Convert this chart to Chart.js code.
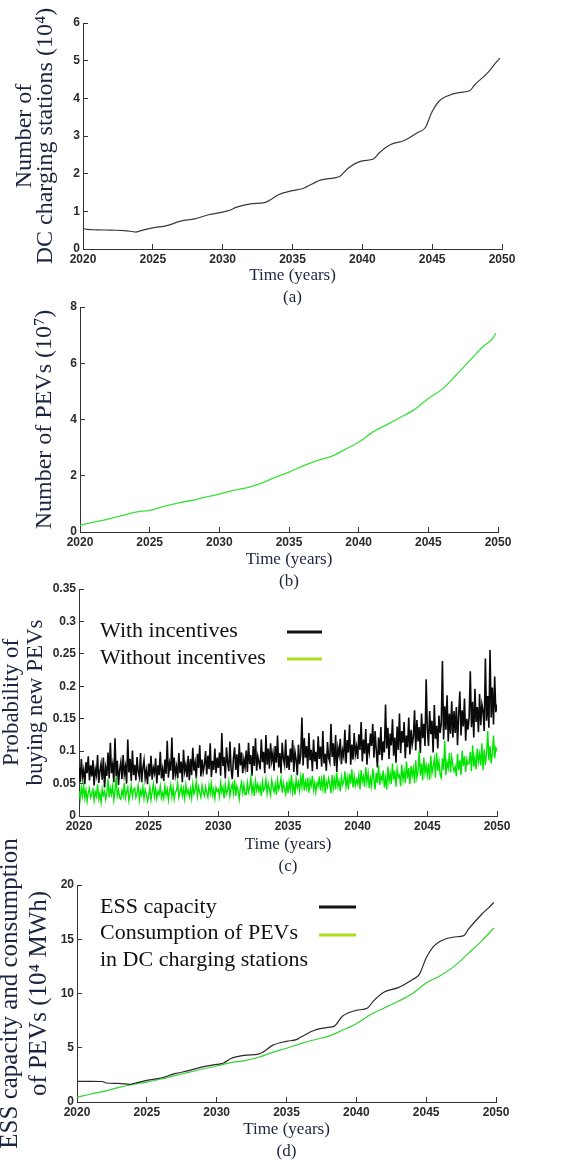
<!DOCTYPE html>
<html>
<head>
<meta charset="utf-8">
<script src="https://cdn.jsdelivr.net/npm/chart.js@4.4.1/dist/chart.umd.min.js"></script>
<style>
  body { margin: 0; background: #fff; overflow: hidden; }
  .panel { position: absolute; left: 0; width: 584px; }
</style>
</head>
<body>
<div class="panel" style="top:0;height:309px"><canvas id="chartA"></canvas></div>
<div class="panel" style="top:290px;height:303px"><canvas id="chartB"></canvas></div>
<div class="panel" style="top:570px;height:308px"><canvas id="chartC"></canvas></div>
<div class="panel" style="top:830px;height:333px"><canvas id="chartD"></canvas></div>
<script>
// (a) DC charging stations, 10^4
const stationYears = [2020, 2020.3, 2021, 2022, 2023, 2023.8, 2024, 2025, 2026, 2027, 2028, 2029, 2030, 2030.5,
    2031, 2032, 2033, 2033.3, 2034, 2035, 2035.7, 2036, 2037, 2038, 2038.4, 2039, 2040, 2040.8, 2041.2,
    2042, 2043, 2044, 2044.5, 2045, 2045.5, 2046, 2047, 2047.7, 2048, 2049, 2049.5, 2049.85];
const stationValues = [0.55, 0.52, 0.51, 0.50, 0.49, 0.45, 0.47, 0.56, 0.62, 0.74, 0.80, 0.91, 0.98, 1.03,
    1.11, 1.20, 1.23, 1.28, 1.44, 1.55, 1.60, 1.65, 1.83, 1.89, 1.93, 2.15, 2.34, 2.39, 2.55,
    2.77, 2.88, 3.10, 3.22, 3.65, 3.93, 4.05, 4.16, 4.20, 4.34, 4.69, 4.92, 5.07];

// (b) PEVs, 10^7
const pevYears = [2020, 2021, 2022, 2023, 2024, 2025, 2026, 2027, 2028, 2029, 2030, 2031, 2032, 2033, 2034,
    2035, 2036, 2037, 2038, 2039, 2040, 2041, 2042, 2043, 2044, 2045, 2046, 2047, 2048, 2049, 2049.5, 2049.85];
const pevValues = [0.24, 0.35, 0.46, 0.58, 0.71, 0.77, 0.91, 1.03, 1.12, 1.24, 1.35, 1.48, 1.58, 1.73, 1.94,
    2.13, 2.35, 2.54, 2.68, 2.93, 3.19, 3.55, 3.81, 4.08, 4.35, 4.75, 5.08, 5.58, 6.11, 6.62, 6.82, 7.06];

// (c) probability of buying new PEVs, monthly samples
const probStart = 2020;
const probPerYear = 12;
const withIncentives = [
    0.075, 0.052, 0.088, 0.060, 0.071, 0.049, 0.083, 0.066, 0.092, 0.055, 0.078, 0.061,
    0.086, 0.047, 0.072, 0.063, 0.094, 0.051, 0.069, 0.081, 0.056, 0.090, 0.044, 0.074,
    0.062, 0.098, 0.058, 0.113, 0.066, 0.079, 0.052, 0.120, 0.061, 0.085, 0.048, 0.071,
    0.083, 0.057, 0.094, 0.064, 0.076, 0.050, 0.118, 0.067, 0.088, 0.054, 0.101, 0.063,
    0.079, 0.055, 0.091, 0.068, 0.060, 0.097, 0.052, 0.074, 0.086, 0.058, 0.070, 0.049,
    0.081, 0.061, 0.093, 0.056, 0.074, 0.066, 0.089, 0.050, 0.078, 0.063, 0.099, 0.058,
    0.072, 0.054, 0.087, 0.065, 0.116, 0.059, 0.081, 0.070, 0.121, 0.056, 0.090, 0.064,
    0.076, 0.058, 0.097, 0.066, 0.084, 0.052, 0.102, 0.069, 0.079, 0.060, 0.093, 0.055,
    0.088, 0.063, 0.105, 0.070, 0.082, 0.058, 0.096, 0.074, 0.109, 0.061, 0.087, 0.068,
    0.079, 0.100, 0.064, 0.093, 0.072, 0.112, 0.060, 0.085, 0.071, 0.104, 0.066, 0.090,
    0.074, 0.098, 0.062, 0.128, 0.077, 0.091, 0.058, 0.106, 0.083, 0.069, 0.115, 0.072,
    0.057, 0.089, 0.106, 0.071, 0.095, 0.060, 0.112, 0.078, 0.098, 0.066, 0.087, 0.075,
    0.101, 0.068, 0.113, 0.080, 0.094, 0.062, 0.108, 0.077, 0.120, 0.070, 0.092, 0.083,
    0.072, 0.118, 0.083, 0.099, 0.066, 0.125, 0.079, 0.104, 0.073, 0.112, 0.085, 0.097,
    0.070, 0.108, 0.082, 0.124, 0.075, 0.097, 0.066, 0.113, 0.088, 0.079, 0.118, 0.074,
    0.093, 0.071, 0.104, 0.083, 0.117, 0.068, 0.099, 0.087, 0.063, 0.110, 0.080, 0.095,
    0.152, 0.078, 0.120, 0.090, 0.108, 0.073, 0.128, 0.086, 0.102, 0.069, 0.118, 0.084,
    0.099, 0.072, 0.123, 0.088, 0.107, 0.076, 0.131, 0.081, 0.096, 0.070, 0.114, 0.090,
    0.083, 0.142, 0.091, 0.112, 0.077, 0.125, 0.068, 0.105, 0.094, 0.119, 0.080, 0.101,
    0.092, 0.133, 0.081, 0.117, 0.098, 0.141, 0.079, 0.110, 0.087, 0.128, 0.095, 0.107,
    0.088, 0.126, 0.102, 0.145, 0.084, 0.118, 0.096, 0.134, 0.079, 0.112, 0.099, 0.127,
    0.108, 0.142, 0.090, 0.131, 0.101, 0.075, 0.121, 0.094, 0.137, 0.086, 0.115, 0.098,
    0.172, 0.104, 0.136, 0.088, 0.127, 0.109, 0.149, 0.093, 0.121, 0.082, 0.138, 0.102,
    0.158, 0.097, 0.131, 0.113, 0.145, 0.089, 0.124, 0.106, 0.152, 0.095, 0.133, 0.110,
    0.122, 0.163, 0.101, 0.148, 0.115, 0.137, 0.097, 0.158, 0.120, 0.142, 0.108, 0.211,
    0.134, 0.108, 0.162, 0.126, 0.147, 0.098, 0.171, 0.119, 0.139, 0.104, 0.155, 0.128,
    0.142, 0.239, 0.118, 0.169, 0.133, 0.186, 0.115, 0.158, 0.127, 0.177, 0.121, 0.162,
    0.128, 0.168, 0.109, 0.157, 0.192, 0.124, 0.163, 0.138, 0.181, 0.116, 0.150, 0.133,
    0.152, 0.223, 0.137, 0.176, 0.121, 0.196, 0.145, 0.168, 0.129, 0.188, 0.140, 0.172,
    0.162, 0.131, 0.243, 0.147, 0.185, 0.136, 0.256, 0.152, 0.198, 0.141, 0.215, 0.160,
    0.172
];
const withoutIncentives = [
    0.038, 0.026, 0.044, 0.031, 0.047, 0.028, 0.040, 0.023, 0.036, 0.043, 0.029, 0.034,
    0.041, 0.024, 0.037, 0.030, 0.049, 0.027, 0.035, 0.021, 0.042, 0.032, 0.038, 0.026,
    0.036, 0.057, 0.029, 0.043, 0.033, 0.046, 0.025, 0.039, 0.060, 0.031, 0.040, 0.028,
    0.026, 0.039, 0.031, 0.051, 0.028, 0.037, 0.044, 0.024, 0.035, 0.047, 0.030, 0.040,
    0.043, 0.029, 0.036, 0.047, 0.025, 0.039, 0.032, 0.045, 0.027, 0.041, 0.034, 0.023,
    0.031, 0.044, 0.025, 0.037, 0.049, 0.030, 0.042, 0.027, 0.038, 0.033, 0.046, 0.028,
    0.036, 0.027, 0.046, 0.032, 0.041, 0.025, 0.039, 0.048, 0.030, 0.043, 0.026, 0.037,
    0.039, 0.051, 0.029, 0.037, 0.045, 0.031, 0.042, 0.027, 0.048, 0.034, 0.040, 0.030,
    0.042, 0.028, 0.049, 0.034, 0.040, 0.053, 0.031, 0.045, 0.036, 0.029, 0.047, 0.037,
    0.031, 0.045, 0.036, 0.029, 0.047, 0.035, 0.050, 0.032, 0.041, 0.027, 0.044, 0.038,
    0.041, 0.030, 0.051, 0.037, 0.044, 0.027, 0.048, 0.034, 0.040, 0.053, 0.031, 0.043,
    0.049, 0.035, 0.056, 0.031, 0.046, 0.039, 0.026, 0.044, 0.052, 0.036, 0.048, 0.033,
    0.033, 0.051, 0.037, 0.045, 0.059, 0.036, 0.047, 0.031, 0.054, 0.040, 0.049, 0.038,
    0.047, 0.031, 0.053, 0.039, 0.043, 0.056, 0.035, 0.050, 0.041, 0.032, 0.055, 0.044,
    0.037, 0.049, 0.033, 0.055, 0.041, 0.047, 0.058, 0.036, 0.051, 0.042, 0.034, 0.053,
    0.035, 0.053, 0.041, 0.063, 0.037, 0.049, 0.033, 0.057, 0.044, 0.052, 0.039, 0.060,
    0.045, 0.066, 0.039, 0.053, 0.043, 0.059, 0.036, 0.055, 0.047, 0.062, 0.040, 0.051,
    0.037, 0.051, 0.046, 0.061, 0.039, 0.056, 0.042, 0.064, 0.035, 0.053, 0.045, 0.058,
    0.049, 0.035, 0.063, 0.043, 0.057, 0.041, 0.067, 0.046, 0.054, 0.038, 0.060, 0.048,
    0.053, 0.069, 0.045, 0.059, 0.041, 0.065, 0.050, 0.072, 0.044, 0.061, 0.047, 0.056,
    0.049, 0.063, 0.041, 0.071, 0.053, 0.061, 0.045, 0.075, 0.052, 0.066, 0.043, 0.058,
    0.046, 0.073, 0.056, 0.041, 0.067, 0.051, 0.078, 0.048, 0.062, 0.055, 0.070, 0.044,
    0.059, 0.041, 0.076, 0.053, 0.066, 0.049, 0.081, 0.056, 0.070, 0.045, 0.073, 0.060,
    0.063, 0.046, 0.079, 0.056, 0.069, 0.051, 0.084, 0.058, 0.074, 0.049, 0.077, 0.062,
    0.073, 0.051, 0.086, 0.059, 0.069, 0.101, 0.062, 0.081, 0.055, 0.090, 0.066, 0.078,
    0.063, 0.081, 0.056, 0.093, 0.066, 0.076, 0.088, 0.059, 0.098, 0.070, 0.084, 0.064,
    0.059, 0.089, 0.071, 0.116, 0.063, 0.083, 0.074, 0.097, 0.067, 0.091, 0.078, 0.069,
    0.076, 0.061, 0.096, 0.071, 0.086, 0.063, 0.101, 0.077, 0.092, 0.068, 0.088, 0.080,
    0.081, 0.099, 0.069, 0.109, 0.076, 0.091, 0.072, 0.104, 0.084, 0.096, 0.078, 0.112,
    0.071, 0.103, 0.079, 0.096, 0.131, 0.086, 0.108, 0.081, 0.097, 0.124, 0.089, 0.105,
    0.100
];

// (d) ESS capacity and consumption, 10^4 MWh
const essYears = [2020, 2021, 2021.8, 2022.1, 2023, 2023.8, 2024, 2025, 2026, 2027, 2028, 2029, 2030, 2030.5,
    2031, 2032, 2033, 2033.3, 2034, 2035, 2035.7, 2036, 2037, 2038, 2038.4, 2039, 2040, 2040.8, 2041.2,
    2042, 2043, 2044, 2044.5, 2045, 2045.5, 2046, 2047, 2047.7, 2048, 2049, 2049.5, 2049.85];
const essValues = [1.90, 1.90, 1.89, 1.75, 1.71, 1.62, 1.69, 2.00, 2.21, 2.61, 2.89, 3.23, 3.47, 3.59,
    3.99, 4.30, 4.42, 4.58, 5.22, 5.59, 5.75, 5.96, 6.61, 6.88, 6.97, 7.90, 8.45, 8.66, 9.28,
    10.14, 10.54, 11.27, 11.74, 13.27, 14.29, 14.81, 15.21, 15.33, 15.88, 17.33, 17.94, 18.40];
const useYears = [2020, 2021, 2022, 2023, 2024, 2025, 2026, 2027, 2028, 2029, 2030, 2031, 2032, 2033, 2034,
    2035, 2036, 2037, 2038, 2039, 2040, 2041, 2042, 2043, 2044, 2045, 2046, 2047, 2048, 2049, 2049.85];
const useValues = [0.43, 0.74, 1.01, 1.35, 1.63, 1.84, 2.12, 2.43, 2.73, 3.04, 3.32, 3.63, 3.81, 4.12, 4.58,
    4.95, 5.38, 5.74, 6.05, 6.61, 7.22, 8.05, 8.66, 9.28, 9.98, 10.97, 11.64, 12.50, 13.67, 14.87, 16.04];

const xTicks = { min: 2020, max: 2050, step: 5 };

const serif = 'Liberation Serif';
const titleColor = '#1c2540';
const tickFont = { family: 'Liberation Sans', size: 12, weight: 'bold' };
const tickColor = '#2a2a2a';

function pairs(xs, ys) {
    return ys.map((y, i) => ({ x: xs[i], y: y }));
}

const probYears = withIncentives.map((_, i) => probStart + i / probPerYear);

// legend drawn text-first, sample line on the right
const sideLegend = {
    id: 'sideLegend',
    afterDraw(chart, args, opts) {
        if (!opts.items) return;
        const ctx = chart.ctx;
        ctx.save();
        ctx.font = '22px "' + serif + '"';
        ctx.textBaseline = 'middle';
        ctx.fillStyle = '#111';
        opts.items.forEach(item => {
            const lines = chart.data.datasets[item.dataset].label.split('\n');
            lines.forEach((t, k) => ctx.fillText(t, opts.textX, item.y + k * opts.lineGap));
            ctx.strokeStyle = item.color;
            ctx.lineWidth = 3;
            ctx.beginPath();
            ctx.moveTo(opts.x1, item.lineY);
            ctx.lineTo(opts.x2, item.lineY);
            ctx.stroke();
        });
        ctx.restore();
    }
};

function makeChart(id, p) {
    const ctx = document.getElementById(id).getContext('2d');
    return new Chart(ctx, {
        type: 'line',
        data: { datasets: p.datasets },
        options: {
            responsive: true,
            maintainAspectRatio: false,
            animation: false,
            layout: { padding: { top: p.padTop, right: p.padRight, left: 0, bottom: 0 } },
            elements: { point: { radius: 0 } },
            plugins: {
                legend: { display: false },
                tooltip: { enabled: false },
                sideLegend: p.legend || {}
            },
            scales: {
                x: {
                    type: 'linear',
                    min: xTicks.min,
                    max: xTicks.max,
                    afterFit: s => { s.height = p.xHeight; },
                    border: { display: true, color: '#333', width: 1 },
                    grid: { drawOnChartArea: false, tickLength: -5, color: '#333' },
                    ticks: {
                        stepSize: xTicks.step,
                        padding: 8,
                        maxRotation: 0,
                        font: tickFont,
                        color: tickColor,
                        callback: v => String(v)
                    },
                    title: {
                        display: true,
                        text: ['Time (years)', p.tag],
                        color: titleColor,
                        font: { family: serif, size: 17, lineHeight: '22px' },
                        padding: { top: 0, bottom: 0 }
                    }
                },
                y: {
                    min: 0,
                    max: p.yMax,
                    afterFit: s => { s.width = p.yWidth; },
                    border: { display: true, color: '#333', width: 1 },
                    grid: { drawOnChartArea: false, tickLength: -5, color: '#333' },
                    ticks: {
                        stepSize: p.yStep,
                        padding: 8,
                        font: tickFont,
                        color: tickColor,
                        callback: v => String(+v.toFixed(2))
                    },
                    title: {
                        display: true,
                        text: p.yTitle,
                        color: titleColor,
                        font: { family: serif, size: p.yTitleSize, lineHeight: p.yTitleLine },
                        padding: { top: p.yTitlePad, bottom: 0 }
                    }
                }
            }
        },
        plugins: [sideLegend]
    });
}

makeChart('chartA', {
    padTop: 23, padRight: 82, xHeight: 60, yWidth: 83, yMax: 6, yStep: 1, tag: '(a)',
    yTitle: ['Number of', 'DC charging stations (10\u2074)'], yTitleSize: 24, yTitleLine: '21px', yTitlePad: 14.5,
    datasets: [{
        label: 'DC charging stations',
        data: pairs(stationYears, stationValues),
        borderColor: '#3a3a3a', borderWidth: 1.2, cubicInterpolationMode: 'monotone'
    }]
});

makeChart('chartB', {
    padTop: 17, padRight: 86, xHeight: 61, yWidth: 80, yMax: 8, yStep: 2, tag: '(b)',
    yTitle: 'Number of PEVs (10\u2077)', yTitleSize: 24, yTitleLine: '24px', yTitlePad: 33,
    datasets: [{
        label: 'PEVs',
        data: pairs(pevYears, pevValues),
        borderColor: '#3be03b', borderWidth: 1.3, cubicInterpolationMode: 'monotone'
    }]
});

makeChart('chartC', {
    padTop: 19, padRight: 87, xHeight: 62, yWidth: 79, yMax: 0.35, yStep: 0.05, tag: '(c)',
    yTitle: ['Probability of', 'buying new PEVs'], yTitleSize: 23, yTitleLine: '24px', yTitlePad: 0,
    legend: {
        textX: 100, x1: 287, x2: 322, lineGap: 27,
        items: [
            { dataset: 0, y: 61, lineY: 62, color: '#111' },
            { dataset: 1, y: 88, lineY: 89, color: '#a8e01a' }
        ]
    },
    datasets: [{
        label: 'With incentives',
        data: pairs(probYears, withIncentives),
        borderColor: '#0a0a0a', borderWidth: 1.6, order: 1
    }, {
        label: 'Without incentives',
        data: pairs(probYears, withoutIncentives),
        borderColor: '#00e600', borderWidth: 1.4, order: 0
    }]
});

makeChart('chartD', {
    padTop: 55, padRight: 88, xHeight: 61, yWidth: 77, yMax: 20, yStep: 5, tag: '(d)',
    yTitle: ['ESS capacity and consumption', 'of PEVs (10\u2074 MWh)'], yTitleSize: 25, yTitleLine: '29px', yTitlePad: -4.5,
    legend: {
        textX: 100, x1: 319, x2: 356, lineGap: 27,
        items: [
            { dataset: 0, y: 77, lineY: 77, color: '#111' },
            { dataset: 1, y: 103, lineY: 105, color: '#a8e01a' }
        ]
    },
    datasets: [{
        label: 'ESS capacity',
        data: pairs(essYears, essValues),
        borderColor: '#2a2a2a', borderWidth: 1.2, cubicInterpolationMode: 'monotone'
    }, {
        label: 'Consumption of PEVs\nin DC charging stations',
        data: pairs(useYears, useValues),
        borderColor: '#33d433', borderWidth: 1.2, cubicInterpolationMode: 'monotone'
    }]
});
</script>
</body>
</html>
